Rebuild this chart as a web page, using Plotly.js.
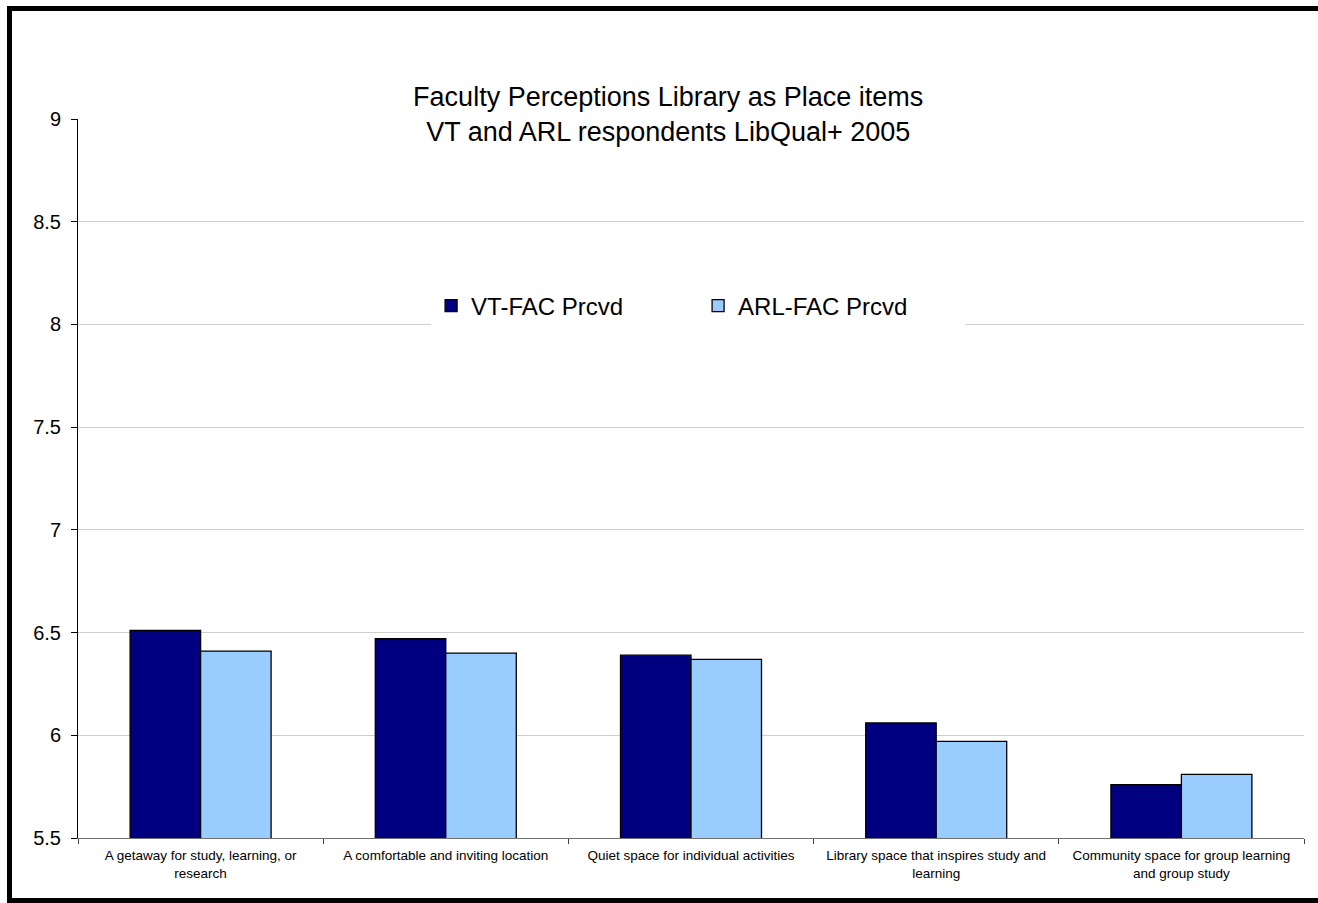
<!DOCTYPE html>
<html>
<head>
<meta charset="utf-8">
<script src="https://cdn.plot.ly/plotly-3.0.1.min.js"></script>
<style>
  html, body { margin: 0; padding: 0; background: #ffffff; overflow: hidden; }
  #chart { position: absolute; left: 0; top: 0; width: 1318px; height: 903px; }
  #frame { position: absolute; left: 7px; top: 6px; width: 1330px; height: 887px;
           border: 5px solid #000; pointer-events: none; box-sizing: content-box; }
</style>
</head>
<body>
<div id="chart"></div>
<div id="frame"></div>
<script>
// ---- data ----
var categories = [
  "A getaway for study, learning, or<br>research",
  "A comfortable and inviting location",
  "Quiet space for individual activities",
  "Library space that inspires study and<br>learning",
  "Community space for group learning<br>and group study"
];
var vtFacPrcvd  = [6.51, 6.47, 6.39, 6.06, 5.76];
var arlFacPrcvd = [6.41, 6.40, 6.37, 5.97, 5.81];
var seriesNames = ["VT-FAC Prcvd", "ARL-FAC Prcvd"];
var yTickVals = [5.5, 6, 6.5, 7, 7.5, 8, 8.5, 9];
var chartTitle = "Faculty Perceptions Library as Place items<br>VT and ARL respondents LibQual+ 2005";

var font = "Arial, 'Liberation Sans', Helvetica, sans-serif";

var traces = [
  {
    type: "bar", name: seriesNames[0], x: categories, y: vtFacPrcvd,
    marker: { color: "#000080", line: { color: "#000000", width: 1.3 } },
    hoverinfo: "y"
  },
  {
    type: "bar", name: seriesNames[1], x: categories, y: arlFacPrcvd,
    marker: { color: "#99ccff", line: { color: "#000000", width: 1.3 } },
    hoverinfo: "y"
  }
];

var layout = {
  width: 1318, height: 903,
  paper_bgcolor: "#ffffff", plot_bgcolor: "#ffffff",
  margin: { l: 78, r: 14, t: 119, b: 65 },
  font: { family: font, color: "#000000" },
  title: {
    text: chartTitle,
    font: { family: font, size: 27, color: "#000000" },
    xref: "container", x: 0.507, xanchor: "center",
    yref: "container", y: 0.883, yanchor: "top"
  },
  barmode: "group", bargap: 0.425, bargroupgap: 0,
  showlegend: true,
  legend: {
    orientation: "h",
    x: 0.288, xanchor: "left",
    y: 0.74, yanchor: "middle",
    bgcolor: "#ffffff", borderwidth: 0,
    font: { family: font, size: 24, color: "#000000" },
    entrywidth: 222, entrywidthmode: "pixels",
    traceorder: "normal"
  },
  xaxis: {
    type: "category",
    showgrid: false,
    showline: true, linecolor: "#707070", linewidth: 1,
    ticks: "outside", tickson: "boundaries", ticklen: 5, tickcolor: "#404040",
    ticklabelstandoff: 5,
    tickfont: { family: font, size: 13.5, color: "#000000" },
    automargin: false, fixedrange: true
  },
  yaxis: {
    range: [5.5, 9],
    tickvals: yTickVals,
    showgrid: true, gridcolor: "#cfcfcf", gridwidth: 1,
    zeroline: false,
    showline: true, linecolor: "#000000", linewidth: 1,
    ticks: "outside", ticklen: 6, tickcolor: "#000000",
    ticklabelstandoff: 6,
    tickfont: { family: font, size: 20, color: "#000000" },
    automargin: false, fixedrange: true
  }
};

Plotly.newPlot("chart", traces, layout, { displayModeBar: false, staticPlot: true });
</script>
</body>
</html>
